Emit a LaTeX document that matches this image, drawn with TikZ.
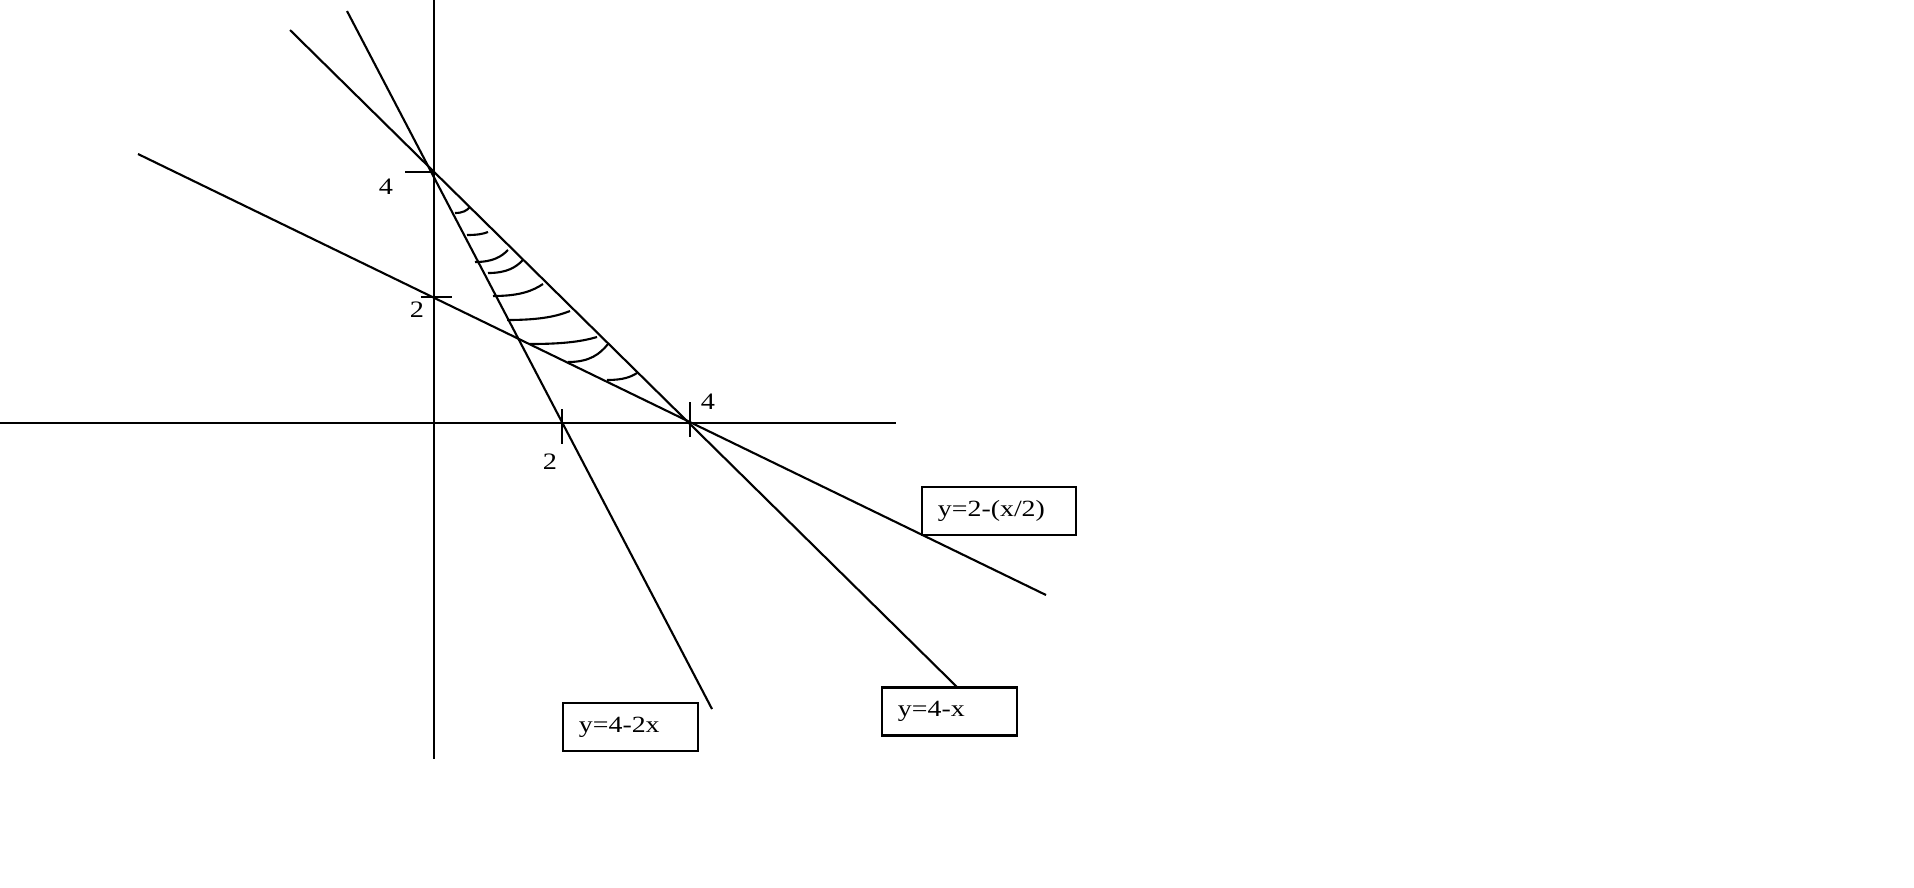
\documentclass[tikz,border=0pt]{standalone}
\usepackage{fontspec}
\setmainfont{Liberation Serif}[FakeStretch=1.2]
\begin{document}
\begin{tikzpicture}[x=0.01cm,y=-0.01cm,
  graph/.style={line width=0.6pt,black},
  axis/.style={line width=0.55pt,black},
  xaxis/.style={line width=0.4pt,black},
  tick/.style={line width=0.6pt},
  hatch/.style={line width=0.6pt},
  lbl/.style={inner sep=0pt,font=\fontsize{6.7}{8}\selectfont},
  eqbox/.style={draw,line width=0.6pt,inner ysep=0pt,inner xsep=0.16cm,
    minimum height=0.48cm,align=left,font=\fontsize{6.6}{8}\selectfont}]
\useasboundingbox (0,0) rectangle (1914,887);
% axes
\coordinate (yaxtop) at (434,0);
\coordinate (yaxbot) at (434,759);
\coordinate (xaxL) at (0,423);
\coordinate (xaxR) at (896,423);
\draw[axis] (yaxtop) -- (yaxbot);
\draw[xaxis] (xaxL) -- (xaxR);
% lines
\coordinate (L1a) at (347,11);  \coordinate (L1b) at (712,709);
\coordinate (L2a) at (290,30);  \coordinate (L2b) at (957,687);
\coordinate (L3a) at (138,154); \coordinate (L3b) at (1046,595);
\draw[graph] (L1a) -- (L1b);
\draw[graph] (L2a) -- (L2b);
\draw[graph] (L3a) -- (L3b);
% ticks
\coordinate (t4ya) at (405,172); \coordinate (t4yb) at (434,172);
\coordinate (t2ya) at (421,297); \coordinate (t2yb) at (452,297);
\coordinate (t2xa) at (562,409); \coordinate (t2xb) at (562,444);
\coordinate (t4xa) at (690,402); \coordinate (t4xb) at (690,437);
\draw[tick] (t4ya) -- (t4yb);
\draw[tick] (t2ya) -- (t2yb);
\draw[tick] (t2xa) -- (t2xb);
\draw[tick] (t4xa) -- (t4xb);
% tick labels
\node[lbl] (l4y) at (386,187) {4};
\node[lbl] (l2y) at (417,310) {2};
\node[lbl] (l2x) at (550,462) {2};
\node[lbl] (l4x) at (708,402) {4};
% hatching
\foreach \xa/\ya/\xb/\yb in {455/213/470/207, 467/235/488/232, 475/262/508/250,
  488/273/523/260, 493/296/543/284, 507/320/570/311, 530/344/597/337,
  568/362/608/344, 607/380/637/373}
  \draw[hatch] (\xa,\ya) .. controls ({\xa+0.55*(\xb-\xa)},\ya) and
    ({\xb-0.2*(\xb-\xa)},{\yb+0.55*(\ya-\yb)}) .. (\xb,\yb);
% equation boxes
\node[eqbox,minimum width=1.54cm,text width=1.22cm] (b1) at (999,511) {y=2-(x/2)};
\node[eqbox,minimum width=1.35cm,text width=1.03cm] (b2) at (630.5,727) {y=4-2x};
\node[eqbox,minimum width=1.35cm,text width=1.03cm] (b3) at (949.5,711.5) {y=4-x};
\end{tikzpicture}
\end{document}
